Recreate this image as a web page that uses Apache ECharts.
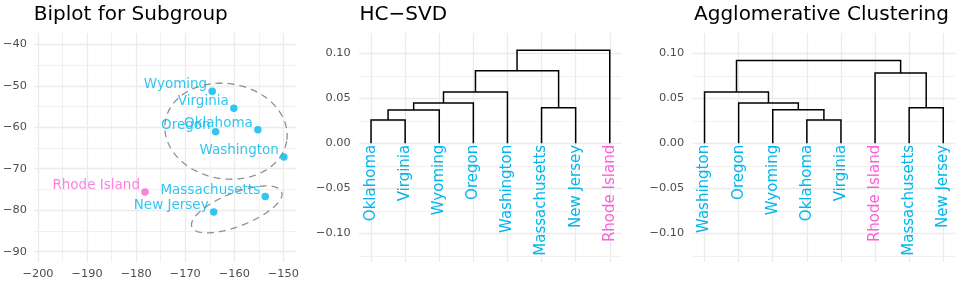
<!DOCTYPE html>
<html><head><meta charset="utf-8">
<script src="https://cdn.jsdelivr.net/npm/echarts@6/dist/echarts.min.js"></script>
<style>html,body{margin:0;padding:0;background:#fff}#c{width:959px;height:283px}</style>
</head><body><div id="c"></div>
<script>
// ---------- Biplot data ----------
const states = ['Wyoming','Virginia','Oklahoma','Oregon','Washington','Rhode Island','Massachusetts','New Jersey'];
const pc1 = [-164.5,-160.1,-155.2,-163.8,-149.9,-178.2,-153.7,-164.2];
const pc2 = [-51.3,-55.4,-60.6,-61.1,-67.2,-75.6,-76.7,-80.4];
const stateGroup = ['main','main','main','main','main','outlier','main','main'];
// ellipse outlines: centre and two conjugate semi-axis vectors, data units
const ellipseCenters = [[-161.7,-60.96],[-159.5,-79.8]];
const ellipseAxisA = [[12.37,-2.357],[9.14,4.24]];
const ellipseAxisB = [[-1.527,-11.33],[1.23,-3.75]];
const biplotXTicks = [-200,-190,-180,-170,-160,-150];
const biplotYTicks = [-90,-80,-70,-60,-50,-40];

// ---------- HC-SVD dendrogram ----------
const hcsvdLeaves = ['Oklahoma','Virginia','Wyoming','Oregon','Washington','Massachusetts','New Jersey','Rhode Island'];
const hcsvdLeafGroup = ['main','main','main','main','main','main','main','outlier'];
// merges: negative = leaf position (1-based), positive = earlier merge
const hcsvdMerges = [[-1,-2],[-3,1],[-4,2],[-5,3],[-6,-7],[4,5],[6,-8]];
const hcsvdHeights = [0.0259,0.0370,0.0448,0.0570,0.0396,0.0807,0.1033];

// ---------- Agglomerative dendrogram ----------
const aggLeaves = ['Washington','Oregon','Wyoming','Oklahoma','Virginia','Rhode Island','Massachusetts','New Jersey'];
const aggLeafGroup = ['main','main','main','main','main','outlier','main','main'];
const aggMerges = [[-4,-5],[-3,1],[-2,2],[-1,3],[-7,-8],[-6,5],[4,6]];
const aggHeights = [0.0259,0.0374,0.0448,0.0570,0.0396,0.0781,0.0919];
const dendroYTicks = [-0.10,-0.05,0.00,0.05,0.10];

// ---------- styling ----------
const FONT = '"DejaVu Sans", "Liberation Sans", Arial, sans-serif';
const COLORS = {main:'#00B6EB', outlier:'#FB61D7'};
const GRIDC = '#ebebeb';
const minusFmt = v => (v < 0 ? '\u2212' : '') + Math.abs(v);
const decFmt = v => (v < -1e-9 ? '\u2212' : '') + Math.abs(v).toFixed(2);

const R1 = {x:[-200.75,-147.43], y:[-92.48,-37.28]};
const R2 = {x:[0.65,8.35], y:[-0.1319,0.1226]};

function gridLines(r, xMaj, xMin, yMaj, yMin, ax) {
  const mk = (xs, ys) => xs.map(v => ({coords:[[v,r.y[0]],[v,r.y[1]]]}))
      .concat(ys.map(v => ({coords:[[r.x[0],v],[r.x[1],v]]})));
  return [
    {type:'lines', coordinateSystem:'cartesian2d', xAxisIndex:ax, yAxisIndex:ax, silent:true, z:1,
     lineStyle:{color:GRIDC, width:0.7, opacity:1}, data: mk(xMin, yMin)},
    {type:'lines', coordinateSystem:'cartesian2d', xAxisIndex:ax, yAxisIndex:ax, silent:true, z:1,
     lineStyle:{color:GRIDC, width:1.36, opacity:1}, data: mk(xMaj, yMaj)}
  ];
}

function dendroSegments(merges, heights) {
  const nx = [], nh = [];
  const pos = c => c < 0 ? [-c, 0] : [nx[c-1], nh[c-1]];
  return merges.map((m, k) => {
    const a = pos(m[0]), b = pos(m[1]), h = heights[k];
    nx.push((a[0]+b[0])/2); nh.push(h);
    return {coords:[[a[0],a[1]],[a[0],h],[b[0],h],[b[0],b[1]]]};
  });
}

function leafLabels(leaves, groups, ax) {
  return {
    type:'custom', coordinateSystem:'cartesian2d', xAxisIndex:ax, yAxisIndex:ax, z:4, silent:true,
    data: leaves.map((n,i) => [i+1, 0]),
    renderItem: (params, api) => {
      const p = api.coord([api.value(0), api.value(1)]);
      const i = params.dataIndex;
      return {type:'text', x:p[0], y:p[1]+1.5, rotation:Math.PI/2,
        style:{text:leaves[i], fill:COLORS[groups[i]], font:'15px ' + FONT, align:'right', verticalAlign:'middle'}};
    }
  };
}

const axisLabelBase = {color:'#4d4d4d', fontSize:11.3, fontFamily:FONT};
const xMinor1 = [-195,-185,-175,-165,-155];
const yMinor1 = [-85,-75,-65,-55,-45];
const leafX = [1,2,3,4,5,6,7,8];
const yMinorD = [-0.125,-0.075,-0.025,0.025,0.075];
const titleStyle = {fontFamily:FONT, fontSize:20, fontWeight:'normal', color:'#000'};

const option = {
  animation:false,
  backgroundColor:'#fff',
  title:[
    {text:'Biplot for Subgroup', left:33.8, top:4.5, padding:0, textStyle:titleStyle},
    {text:'HC\u2212SVD', left:359.5, top:4.5, padding:0, textStyle:titleStyle},
    {text:'Agglomerative Clustering', left:694, top:4.5, padding:0, textStyle:titleStyle}
  ],
  grid:[
    {left:33, top:33, width:263, height:229},
    {left:359.1, top:33, width:262.6, height:229},
    {left:692.6, top:33, width:262.6, height:229}
  ],
  xAxis:[
    {gridIndex:0, type:'value', min:R1.x[0], max:R1.x[1], axisLine:{show:false}, axisTick:{show:false}, splitLine:{show:false},
     axisLabel:Object.assign({}, axisLabelBase, {customValues:biplotXTicks, formatter:minusFmt, margin:7, showMinLabel:true, showMaxLabel:true})},
    {gridIndex:1, type:'value', min:R2.x[0], max:R2.x[1], axisLine:{show:false}, axisTick:{show:false}, splitLine:{show:false}, axisLabel:{show:false}},
    {gridIndex:2, type:'value', min:R2.x[0], max:R2.x[1], axisLine:{show:false}, axisTick:{show:false}, splitLine:{show:false}, axisLabel:{show:false}}
  ],
  yAxis:[
    {gridIndex:0, type:'value', min:R1.y[0], max:R1.y[1], axisLine:{show:false}, axisTick:{show:false}, splitLine:{show:false},
     axisLabel:Object.assign({}, axisLabelBase, {customValues:biplotYTicks, formatter:minusFmt, margin:7.5})},
    {gridIndex:1, type:'value', min:R2.y[0], max:R2.y[1], axisLine:{show:false}, axisTick:{show:false}, splitLine:{show:false},
     axisLabel:Object.assign({}, axisLabelBase, {customValues:dendroYTicks, formatter:decFmt, margin:8.4})},
    {gridIndex:2, type:'value', min:R2.y[0], max:R2.y[1], axisLine:{show:false}, axisTick:{show:false}, splitLine:{show:false},
     axisLabel:Object.assign({}, axisLabelBase, {customValues:dendroYTicks, formatter:decFmt, margin:8.4})}
  ],
  series:[
    ...gridLines(R1, biplotXTicks, xMinor1, biplotYTicks, yMinor1, 0),
    ...gridLines(R2, leafX, [], dendroYTicks, yMinorD, 1),
    ...gridLines(R2, leafX, [], dendroYTicks, yMinorD, 2),
    {
      type:'custom', coordinateSystem:'cartesian2d', xAxisIndex:0, yAxisIndex:0, z:2, silent:true,
      data: ellipseCenters.map(c => [c[0], c[1]]),
      renderItem:(params, api) => {
        const i = params.dataIndex, c = ellipseCenters[i], A = ellipseAxisA[i], B = ellipseAxisB[i];
        const pts = [];
        for (let k = 0; k <= 180; k++) {
          const t = k / 180 * Math.PI * 2;
          pts.push(api.coord([c[0] + A[0]*Math.cos(t) + B[0]*Math.sin(t), c[1] + A[1]*Math.cos(t) + B[1]*Math.sin(t)]));
        }
        return {type:'polyline', shape:{points:pts}, style:{stroke:'#8f8f8f', lineWidth:1.3, lineDash:[7,5], fill:null}};
      }
    },
    {
      type:'scatter', xAxisIndex:0, yAxisIndex:0, z:3, symbol:'circle', symbolSize:7.5, silent:true,
      data: states.map((s,i) => ({name:s, value:[pc1[i], pc2[i]],
        itemStyle:{color:COLORS[stateGroup[i]]},
        label:{color:COLORS[stateGroup[i]]}})),
      label:{show:true, position:'left', distance:1.3, offset:[0,-6.3], formatter:'{b}', fontSize:13.5, fontFamily:FONT}
    },
    {type:'lines', coordinateSystem:'cartesian2d', polyline:true, xAxisIndex:1, yAxisIndex:1, z:3, silent:true,
     lineStyle:{color:'#000', width:1.5, opacity:1}, data: dendroSegments(hcsvdMerges, hcsvdHeights)},
    {type:'lines', coordinateSystem:'cartesian2d', polyline:true, xAxisIndex:2, yAxisIndex:2, z:3, silent:true,
     lineStyle:{color:'#000', width:1.5, opacity:1}, data: dendroSegments(aggMerges, aggHeights)},
    leafLabels(hcsvdLeaves, hcsvdLeafGroup, 1),
    leafLabels(aggLeaves, aggLeafGroup, 2)
  ]
};
const chart = echarts.init(document.getElementById('c'), null, {renderer:'canvas'});
chart.setOption(option);
</script></body></html>
